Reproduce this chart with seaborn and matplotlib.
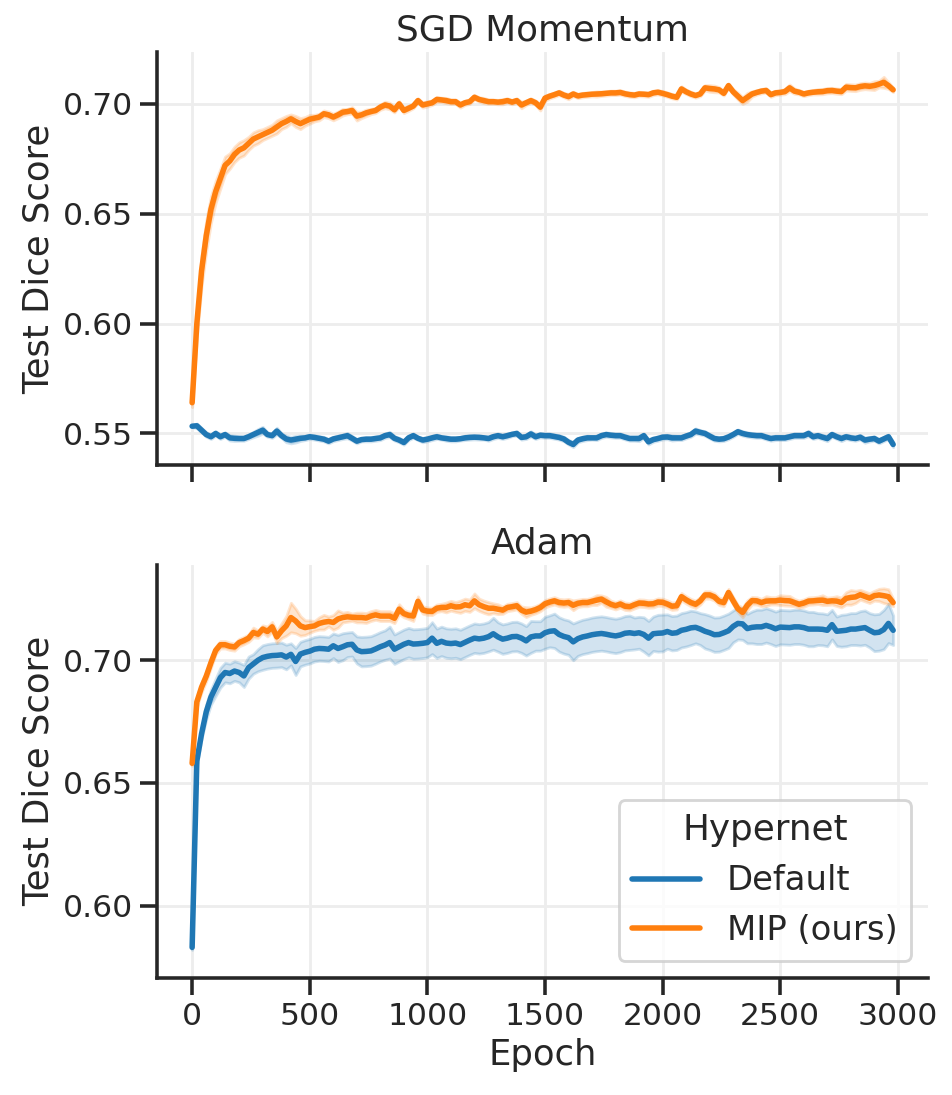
import numpy as np
import pandas as pd
import matplotlib
matplotlib.use("Agg")
import matplotlib.pyplot as plt
import seaborn as sns

# ---------------- data ----------------
epochs = np.arange(0, 3000, 20)  # 0, 20, ..., 2980
hypernets = ["Default", "MIP (ours)"]
optimizers = ["SGD Momentum", "Adam"]

sgd_mip_mean = [
    0.564, 0.600, 0.624, 0.640, 0.652, 0.660, 0.666, 0.672, 0.674, 0.677,
    0.679, 0.680, 0.682, 0.684, 0.685, 0.686, 0.687, 0.688, 0.6895, 0.691,
    0.692, 0.6932, 0.692, 0.691, 0.692, 0.693, 0.6935, 0.694, 0.6955, 0.695,
    0.694, 0.695, 0.6962, 0.6965, 0.697, 0.6944, 0.695, 0.6959, 0.6965, 0.697,
    0.6985, 0.6995, 0.699, 0.6973, 0.700, 0.697, 0.698, 0.699, 0.7015, 0.6995,
    0.700, 0.7005, 0.702, 0.7018, 0.7015, 0.701, 0.701, 0.6995, 0.7005, 0.701,
    0.703, 0.702, 0.7015, 0.701, 0.701, 0.7008, 0.701, 0.7015, 0.7008, 0.7015,
    0.6995, 0.7005, 0.7015, 0.7005, 0.6985, 0.7026, 0.7035, 0.7042, 0.705, 0.704,
    0.7033, 0.7045, 0.7036, 0.704, 0.7042, 0.7044, 0.7045, 0.7046, 0.7048, 0.705,
    0.705, 0.7052, 0.7046, 0.7042, 0.704, 0.7045, 0.7044, 0.7042, 0.705, 0.7053,
    0.7048, 0.7042, 0.7035, 0.703, 0.7068, 0.7055, 0.7045, 0.7038, 0.7045, 0.7073,
    0.707, 0.7068, 0.7064, 0.7048, 0.7083, 0.7055, 0.7035, 0.7015, 0.703, 0.7045,
    0.7052, 0.7058, 0.7061, 0.7042, 0.705, 0.7052, 0.7056, 0.7073, 0.7058, 0.7053,
    0.7045, 0.705, 0.7053, 0.7055, 0.7056, 0.706, 0.7061, 0.7058, 0.7056, 0.7076,
    0.7074, 0.7073, 0.7079, 0.7082, 0.708, 0.7083, 0.709, 0.7098, 0.7083, 0.7064,
]
sgd_mip_band = [
    0.002, 0.006, 0.007, 0.007, 0.006, 0.005, 0.0045, 0.004, 0.0035, 0.0035,
    0.0035, 0.0035, 0.003, 0.003, 0.003, 0.0025, 0.0025, 0.0025, 0.003, 0.0025,
    0.0025, 0.002, 0.0025, 0.0025, 0.002, 0.002, 0.0015, 0.0015, 0.0015, 0.0015,
    0.0015, 0.0015, 0.0015, 0.0012, 0.0015, 0.002, 0.0015, 0.0015, 0.0012, 0.0012,
    0.0012, 0.0015, 0.0015, 0.0012, 0.0012, 0.0012, 0.0012, 0.001, 0.001, 0.0012,
    0.0012, 0.001, 0.0012, 0.001, 0.0012, 0.001, 0.001, 0.0012, 0.001, 0.001,
    0.001, 0.001, 0.0012, 0.001, 0.001, 0.001, 0.0012, 0.001, 0.001, 0.001,
    0.0015, 0.001, 0.001, 0.001, 0.0015, 0.0012, 0.001, 0.001, 0.001, 0.001,
    0.0012, 0.001, 0.001, 0.001, 0.001, 0.001, 0.0012, 0.001, 0.001, 0.001,
    0.001, 0.001, 0.001, 0.001, 0.001, 0.001, 0.001, 0.001, 0.001, 0.001,
    0.001, 0.001, 0.001, 0.001, 0.0012, 0.001, 0.001, 0.001, 0.001, 0.0012,
    0.0015, 0.0015, 0.0012, 0.001, 0.001, 0.0012, 0.0015, 0.0015, 0.002, 0.0012,
    0.001, 0.001, 0.001, 0.001, 0.001, 0.001, 0.0012, 0.0015, 0.0012, 0.001,
    0.001, 0.001, 0.001, 0.0012, 0.0012, 0.0012, 0.0012, 0.0012, 0.0012, 0.0015,
    0.0015, 0.0015, 0.0015, 0.0015, 0.0015, 0.002, 0.0015, 0.0025, 0.0015, 0.001,
]
sgd_default_mean = [
    0.5533, 0.5535, 0.5515, 0.5495, 0.5485, 0.550, 0.5485, 0.5495, 0.548, 0.5478,
    0.5477, 0.5477, 0.5485, 0.5495, 0.5505, 0.5515, 0.5495, 0.549, 0.5511, 0.549,
    0.5475, 0.547, 0.5474, 0.5478, 0.548, 0.5485, 0.5482, 0.5478, 0.5474, 0.5465,
    0.5475, 0.548, 0.5485, 0.549, 0.5478, 0.5465, 0.5472, 0.5474, 0.5474, 0.5477,
    0.548, 0.549, 0.5495, 0.5478, 0.547, 0.5459, 0.548, 0.549, 0.5478, 0.547,
    0.5474, 0.548, 0.5485, 0.548, 0.5477, 0.5474, 0.5474, 0.5476, 0.548, 0.5482,
    0.5483, 0.5482, 0.548, 0.5477, 0.5485, 0.549, 0.5485, 0.549, 0.5496, 0.550,
    0.5482, 0.5485, 0.5498, 0.5485, 0.5492, 0.549, 0.549, 0.5486, 0.5482, 0.5475,
    0.546, 0.545, 0.547, 0.5476, 0.548, 0.548, 0.548, 0.549, 0.5495, 0.5492,
    0.549, 0.549, 0.5483, 0.5477, 0.5477, 0.5477, 0.549, 0.5462, 0.5472, 0.5477,
    0.5483, 0.5484, 0.548, 0.548, 0.548, 0.5488, 0.5495, 0.5511, 0.5505, 0.550,
    0.5488, 0.5477, 0.5474, 0.5476, 0.5484, 0.5495, 0.5508, 0.550, 0.5495, 0.5492,
    0.549, 0.549, 0.5483, 0.5477, 0.548, 0.548, 0.548, 0.5485, 0.549, 0.549,
    0.549, 0.550, 0.5485, 0.549, 0.5483, 0.5477, 0.5495, 0.5485, 0.5477, 0.5485,
    0.548, 0.5477, 0.5483, 0.547, 0.5474, 0.5477, 0.5465, 0.5475, 0.5485, 0.545,
]
sgd_default_band = [
    0.0005, 0.001, 0.001, 0.001, 0.001, 0.001, 0.001, 0.001, 0.0012, 0.0012,
    0.001, 0.001, 0.001, 0.0012, 0.0015, 0.0015, 0.001, 0.001, 0.0015, 0.001,
    0.0015, 0.0015, 0.0015, 0.0012, 0.001, 0.001, 0.001, 0.001, 0.001, 0.001,
    0.001, 0.001, 0.001, 0.0012, 0.001, 0.001, 0.0008, 0.001, 0.001, 0.001,
    0.001, 0.001, 0.0012, 0.001, 0.001, 0.001, 0.001, 0.001, 0.0008, 0.001,
    0.001, 0.001, 0.001, 0.0008, 0.001, 0.001, 0.001, 0.0008, 0.001, 0.001,
    0.001, 0.001, 0.0008, 0.001, 0.001, 0.001, 0.001, 0.001, 0.0008, 0.001,
    0.001, 0.001, 0.0012, 0.001, 0.001, 0.001, 0.001, 0.001, 0.001, 0.001,
    0.001, 0.0012, 0.001, 0.001, 0.001, 0.0008, 0.001, 0.001, 0.001, 0.001,
    0.001, 0.001, 0.001, 0.001, 0.001, 0.0012, 0.001, 0.0012, 0.001, 0.001,
    0.001, 0.001, 0.0012, 0.001, 0.001, 0.001, 0.001, 0.0012, 0.001, 0.001,
    0.001, 0.001, 0.001, 0.001, 0.001, 0.001, 0.001, 0.001, 0.001, 0.001,
    0.001, 0.001, 0.001, 0.001, 0.001, 0.001, 0.001, 0.001, 0.001, 0.001,
    0.001, 0.0012, 0.001, 0.001, 0.001, 0.0012, 0.001, 0.001, 0.0012, 0.001,
    0.001, 0.001, 0.001, 0.0012, 0.001, 0.001, 0.001, 0.001, 0.001, 0.0012,
]
adam_mip_mean = [
    0.658, 0.683, 0.689, 0.6935, 0.699, 0.704, 0.7063, 0.7063, 0.7057, 0.7054,
    0.7072, 0.708, 0.709, 0.7113, 0.7106, 0.7127, 0.7117, 0.7136, 0.7095, 0.712,
    0.714, 0.7174, 0.716, 0.714, 0.7133, 0.7137, 0.714, 0.715, 0.7155, 0.7158,
    0.7154, 0.7168, 0.7174, 0.7177, 0.7175, 0.7174, 0.7174, 0.7172, 0.718, 0.7185,
    0.718, 0.718, 0.718, 0.7171, 0.7208, 0.719, 0.7183, 0.718, 0.724, 0.7205,
    0.720, 0.7199, 0.7212, 0.7215, 0.7215, 0.7222, 0.7217, 0.7218, 0.7226, 0.7222,
    0.7242, 0.7226, 0.7218, 0.7212, 0.7212, 0.7208, 0.7204, 0.7215, 0.7218, 0.7222,
    0.7204, 0.7196, 0.720, 0.7206, 0.7215, 0.723, 0.7237, 0.7242, 0.7235, 0.7233,
    0.7235, 0.7224, 0.7232, 0.7235, 0.7235, 0.724, 0.7245, 0.7249, 0.7238, 0.7228,
    0.7222, 0.7229, 0.722, 0.7218, 0.7226, 0.7233, 0.7232, 0.7229, 0.723, 0.7237,
    0.7236, 0.7229, 0.722, 0.7222, 0.7259, 0.7246, 0.7235, 0.7228, 0.7242, 0.7266,
    0.7266, 0.7258, 0.724, 0.7235, 0.7276, 0.7242, 0.721, 0.7195, 0.7224, 0.7243,
    0.7242, 0.7235, 0.7241, 0.7242, 0.7242, 0.7245, 0.7243, 0.7242, 0.7235, 0.7228,
    0.7233, 0.7241, 0.7242, 0.7244, 0.7245, 0.724, 0.7242, 0.7241, 0.7235, 0.7252,
    0.7256, 0.7258, 0.7267, 0.726, 0.7253, 0.7263, 0.7266, 0.7263, 0.7259, 0.7235,
]
adam_mip_band = [
    0.001, 0.002, 0.002, 0.002, 0.002, 0.0015, 0.0015, 0.0015, 0.0015, 0.0015,
    0.0015, 0.0015, 0.0015, 0.002, 0.0015, 0.0015, 0.002, 0.002, 0.0025, 0.003,
    0.004, 0.006, 0.005, 0.004, 0.003, 0.0025, 0.002, 0.0025, 0.003, 0.002,
    0.003, 0.0035, 0.002, 0.002, 0.0015, 0.002, 0.002, 0.002, 0.002, 0.002,
    0.002, 0.002, 0.002, 0.002, 0.002, 0.0015, 0.0015, 0.002, 0.002, 0.0015,
    0.0015, 0.0015, 0.0015, 0.0015, 0.002, 0.002, 0.002, 0.0025, 0.0025, 0.0025,
    0.003, 0.0025, 0.0025, 0.0025, 0.002, 0.002, 0.0015, 0.0015, 0.0015, 0.0015,
    0.0015, 0.002, 0.0015, 0.0015, 0.0015, 0.0015, 0.0015, 0.0015, 0.0015, 0.0015,
    0.0015, 0.002, 0.0015, 0.0015, 0.0015, 0.0015, 0.002, 0.0015, 0.002, 0.0015,
    0.0015, 0.0015, 0.0015, 0.0015, 0.0015, 0.0015, 0.0015, 0.0015, 0.0015, 0.0015,
    0.0015, 0.0015, 0.0015, 0.0015, 0.0015, 0.0015, 0.0015, 0.0015, 0.0015, 0.0015,
    0.0015, 0.0015, 0.0015, 0.0015, 0.0015, 0.0015, 0.0015, 0.002, 0.002, 0.0015,
    0.0015, 0.0015, 0.002, 0.0015, 0.0015, 0.002, 0.002, 0.002, 0.0015, 0.0015,
    0.0015, 0.0015, 0.0015, 0.0015, 0.002, 0.0015, 0.0015, 0.002, 0.002, 0.0025,
    0.003, 0.0025, 0.002, 0.002, 0.002, 0.002, 0.0025, 0.003, 0.003, 0.0015,
]
adam_default_mean = [
    0.583, 0.659, 0.670, 0.679, 0.685, 0.689, 0.6929, 0.695, 0.6946, 0.6956,
    0.695, 0.6936, 0.697, 0.6985, 0.700, 0.7011, 0.7016, 0.7019, 0.702, 0.7022,
    0.7013, 0.7024, 0.6995, 0.7025, 0.7032, 0.7037, 0.7045, 0.7048, 0.7047, 0.7045,
    0.7059, 0.7048, 0.7055, 0.7063, 0.7065, 0.7042, 0.7035, 0.7036, 0.7038, 0.7046,
    0.7055, 0.7062, 0.7072, 0.7045, 0.7055, 0.7065, 0.7072, 0.7066, 0.7067, 0.7069,
    0.7072, 0.709, 0.7069, 0.7077, 0.707, 0.7068, 0.707, 0.7064, 0.7073, 0.7082,
    0.709, 0.7087, 0.709, 0.7096, 0.7108, 0.7095, 0.7086, 0.709, 0.7096, 0.7097,
    0.709, 0.7079, 0.7095, 0.7099, 0.7099, 0.7112, 0.7118, 0.712, 0.7105, 0.7097,
    0.7092, 0.7075, 0.7088, 0.7095, 0.7099, 0.7104, 0.7107, 0.7109, 0.7106, 0.7102,
    0.7099, 0.7103, 0.711, 0.7112, 0.7109, 0.7112, 0.7105, 0.709, 0.7108, 0.711,
    0.7111, 0.7117, 0.711, 0.7112, 0.7122, 0.7126, 0.7132, 0.7134, 0.7127, 0.7118,
    0.7112, 0.7104, 0.7105, 0.7112, 0.712, 0.7138, 0.715, 0.7148, 0.7129, 0.7134,
    0.7136, 0.7136, 0.7142, 0.7136, 0.7128, 0.7135, 0.7134, 0.7133, 0.7136, 0.7136,
    0.7133, 0.7127, 0.7127, 0.7127, 0.7126, 0.7122, 0.7145, 0.7118, 0.712, 0.7122,
    0.7127, 0.7127, 0.713, 0.7133, 0.7122, 0.7112, 0.7114, 0.7125, 0.715, 0.7122,
]
adam_default_band = [
    0.001, 0.002, 0.002, 0.003, 0.003, 0.0035, 0.004, 0.004, 0.004, 0.004,
    0.004, 0.0045, 0.0045, 0.004, 0.0045, 0.005, 0.005, 0.005, 0.005, 0.005,
    0.005, 0.0045, 0.0055, 0.005, 0.005, 0.005, 0.005, 0.005, 0.005, 0.005,
    0.005, 0.0055, 0.0055, 0.005, 0.005, 0.0055, 0.006, 0.006, 0.006, 0.006,
    0.006, 0.006, 0.0065, 0.006, 0.006, 0.006, 0.006, 0.006, 0.006, 0.006,
    0.006, 0.0065, 0.006, 0.006, 0.006, 0.006, 0.006, 0.006, 0.006, 0.006,
    0.006, 0.006, 0.006, 0.006, 0.0065, 0.006, 0.006, 0.006, 0.006, 0.006,
    0.006, 0.006, 0.0065, 0.006, 0.006, 0.0065, 0.0065, 0.007, 0.007, 0.007,
    0.007, 0.0075, 0.007, 0.007, 0.007, 0.007, 0.007, 0.007, 0.007, 0.007,
    0.007, 0.007, 0.007, 0.007, 0.0065, 0.0065, 0.007, 0.007, 0.007, 0.0075,
    0.0075, 0.007, 0.007, 0.007, 0.007, 0.007, 0.007, 0.0065, 0.0065, 0.007,
    0.007, 0.007, 0.007, 0.007, 0.007, 0.0065, 0.0065, 0.0065, 0.006, 0.0065,
    0.007, 0.007, 0.007, 0.007, 0.007, 0.007, 0.007, 0.007, 0.007, 0.007,
    0.007, 0.007, 0.007, 0.0065, 0.0065, 0.0065, 0.006, 0.006, 0.0065, 0.0065,
    0.0065, 0.0065, 0.007, 0.007, 0.007, 0.0075, 0.0075, 0.008, 0.008, 0.006,
]

series = {
    ("SGD Momentum", "Default"): (sgd_default_mean, sgd_default_band),
    ("SGD Momentum", "MIP (ours)"): (sgd_mip_mean, sgd_mip_band),
    ("Adam", "Default"): (adam_default_mean, adam_default_band),
    ("Adam", "MIP (ours)"): (adam_mip_mean, adam_mip_band),
}

# long table: three "runs" per point so that the seaborn interval spans mean +/- band
rows = []
for (opt, hyp), (mean, band) in series.items():
    n = min(len(mean), len(band), len(epochs))
    for i in range(n):
        for s in (-1, 0, 1):
            rows.append((opt, hyp, epochs[i], mean[i] + s * band[i]))
df = pd.DataFrame(rows, columns=["Optimizer", "Hypernet", "Epoch", "Test Dice Score"])

# ---------------- style ----------------
sns.set_theme(context="talk", style="ticks",
              rc={"axes.grid": True, "grid.color": "#ededed", "grid.linewidth": 1.5,
                  "axes.labelsize": 18.6, "axes.titlesize": 18.8,
                  "legend.fontsize": 17.8, "legend.title_fontsize": 18.8})
palette = {"Default": "#1f77b4", "MIP (ours)": "#ff7f0e"}

DPI = 137
fig, axes = plt.subplots(2, 1, figsize=(952 / DPI, 1095 / DPI), sharex=True)
fig.subplots_adjust(left=0.165, right=0.975, top=0.9525, bottom=0.107, hspace=0.24)

ylims = {"SGD Momentum": (0.5355, 0.7236), "Adam": (0.5706, 0.739)}
yticks = {"SGD Momentum": [0.55, 0.60, 0.65, 0.70], "Adam": [0.60, 0.65, 0.70]}

for ax, opt in zip(axes, optimizers):
    sub = df[df["Optimizer"] == opt]
    sns.lineplot(data=sub, x="Epoch", y="Test Dice Score", hue="Hypernet",
                 hue_order=hypernets, palette=palette, errorbar=("pi", 100),
                 linewidth=2.9, ax=ax)
    ax.set_title(opt)
    ax.set_ylim(*ylims[opt])
    ax.set_yticks(yticks[opt])
    ax.set_yticklabels([f"{t:.2f}" for t in yticks[opt]])
    sns.despine(ax=ax)

axes[0].get_legend().remove()
axes[0].set_xlabel("")
axes[1].set_xticks([0, 500, 1000, 1500, 2000, 2500, 3000])
axes[1].set_xlabel("Epoch")
leg = axes[1].legend(title="Hypernet", loc="lower right")
for h in leg.get_lines():
    h.set_linewidth(2.9)

fig.savefig("out.png", dpi=DPI)
